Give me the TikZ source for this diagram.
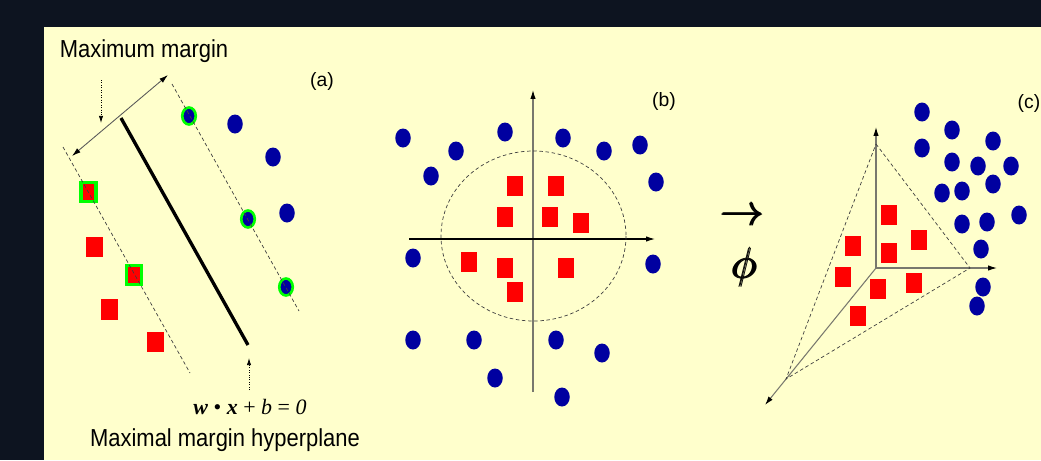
\documentclass[tikz,border=0pt]{standalone}
\usepackage{graphicx}
\usepackage{amsmath}
\usepackage{fontspec}
\setmainfont{Liberation Sans}
\newfontfamily\eqfont{Liberation Serif}
\usetikzlibrary{arrows.meta,shapes.geometric}
\definecolor{darkbg}{RGB}{13,20,32}
\definecolor{panel}{RGB}{255,255,204}
\definecolor{ptblue}{RGB}{0,0,160}
\definecolor{ptred}{RGB}{255,0,0}
\definecolor{svgreen}{RGB}{0,255,0}
\definecolor{axisgray}{RGB}{120,120,110}
\begin{document}
\begin{tikzpicture}[x=0.02cm,y=-0.02cm,
  bluept/.style={ellipse,fill=ptblue,inner sep=0pt,minimum width=0.31cm,minimum height=0.38cm},
  redpt/.style={rectangle,fill=ptred,inner sep=0pt,minimum width=0.33cm,minimum height=0.41cm},
  svblue/.style={bluept,draw=svgreen,line width=1.5pt,minimum width=0.27cm,minimum height=0.34cm},
  svred/.style={redpt,draw=svgreen,line width=1.8pt,minimum width=0.30cm,minimum height=0.37cm},
  marginline/.style={draw=black!75,line width=0.4pt,dash pattern=on 2pt off 1.5pt},
  hint/.style={densely dotted,-{Latex[length=4pt,width=2.4pt]}},
  axisline/.style={draw=axisgray,line width=0.6pt,-{Latex[length=5pt,width=3pt,color=black]}},
  captext/.style={font=\fontsize{12.5}{15}\selectfont},
  panelname/.style={font=\fontsize{11}{13}\selectfont}]
\useasboundingbox (0,0) rectangle (1041,460);
\fill[darkbg] (0,0) rectangle (1041,460);
\fill[panel] (44,27) rectangle (1041,460);
% (a) maximal margin
\node[captext] (maxm) at (144,51) {\scalebox{1}[1.12]{Maximum margin}};
\node[panelname] (taga) at (322,81) {(a)};
\foreach \x/\y [count=\i] in {235/124,273/157,287/213}
  \node[bluept] (ab\i) at (\x,\y) {};
\foreach \x/\y [count=\i] in {189/116,248/219,286/287}
  \node[svblue] (as\i) at (\x,\y) {};
\foreach \x/\y [count=\i] in {94.5/247,109.5/309.5,155.5/342}
  \node[redpt] (ar\i) at (\x,\y) {};
\foreach \x/\y [count=\i] in {88.5/192,134/275}
  \node[svred] (asr\i) at (\x,\y) {};
\coordinate (hp1) at (121,118);
\coordinate (hp2) at (248,345);
\coordinate (ml1) at (63,147);
\coordinate (ml2) at (190,373);
\coordinate (mr1) at (172,84);
\coordinate (mr2) at (299,311);
\draw[line width=1.9pt] (hp1) -- (hp2);
\draw[marginline] (ml1) -- (ml2);
\draw[marginline] (mr1) -- (mr2);
\coordinate (mw1) at (72,156);
\coordinate (mw2) at (168,75);
\draw[draw=black!65,line width=0.5pt,{Latex[length=5pt,width=3pt,color=black]}-{Latex[length=5pt,width=3pt,color=black]}] (mw1) -- (mw2);
\coordinate (hm1) at (101,80);
\coordinate (hm2) at (101,123);
\draw[hint] (hm1) -- (hm2);
\node[font=\eqfont\fontsize{12.5}{15}\selectfont] (eq) at (250,407)
  {\textbf{\textit{w}} • \textbf{\textit{x}} + \textit{b} = \textit{0}};
\coordinate (hh1) at (249,390);
\coordinate (hh2) at (249,358);
\draw[hint] (hh1) -- (hh2);
\node[captext] (mmh) at (225,440) {\scalebox{1}[1.12]{Maximal margin hyperplane}};
% (b) circle in the plane
\node[panelname] (tagb) at (664,101) {(b)};
\coordinate (bo) at (533,239);
\coordinate (bu1) at (533,392);
\coordinate (bu2) at (533,90);
\coordinate (br1) at (409,239);
\coordinate (br2) at (655,239);
\draw[axisline] (bu1) -- (bu2);
\draw[axisline,draw=black] (br1) -- (br2);
\draw[marginline] (533.5,236) ellipse [x radius=92.5,y radius=85];
\foreach \x/\y [count=\i] in {403/138,456/151,505/132,431/176,563/138,604/151,640/145,656/182,
  413/258,653/264,413/340,474/340,495/378,556/340,602/353,562/397}
  \node[bluept] (bb\i) at (\x,\y) {};
\foreach \x/\y [count=\i] in {515/186,556/186,505/217,550/217,581/223,469/262,505/268,566/268,515/292}
  \node[redpt] (br\i) at (\x,\y) {};
% mapping
\node[font=\fontsize{23}{26}\selectfont] (maparrow) at (743,217) {$\pmb{\rightarrow}$};
\node[font=\fontsize{27}{30}\selectfont] (phisym) at (745,267) {$\pmb{\phi}$};
% (c) feature space
\node[panelname] (tagc) at (1029,103) {(c)};
\coordinate (co) at (876,268);
\coordinate (cu) at (876,127);
\coordinate (cr) at (997,268);
\coordinate (cd) at (765,405);
\draw[axisline] (co) -- (cu);
\draw[axisline] (co) -- (cr);
\draw[axisline] (co) -- (cd);
\coordinate (ta) at (876,144);
\coordinate (tb) at (970,268);
\coordinate (tc) at (786,379);
\draw[marginline] (ta) -- (tb) -- (tc) -- cycle;
\foreach \x/\y [count=\i] in {889/215,919/240,853/246,889/253,843/277,878/289,914/283,858/316}
  \node[redpt] (cr\i) at (\x,\y) {};
\foreach \x/\y [count=\i] in {922/112,952/130,993/141,922/148,952/162,978/166,1011/166,942/193,
  962/191,993/184,1019/215,962/224,987/222,981/249,983/287,977/306}
  \node[bluept] (cb\i) at (\x,\y) {};
\end{tikzpicture}
\end{document}
